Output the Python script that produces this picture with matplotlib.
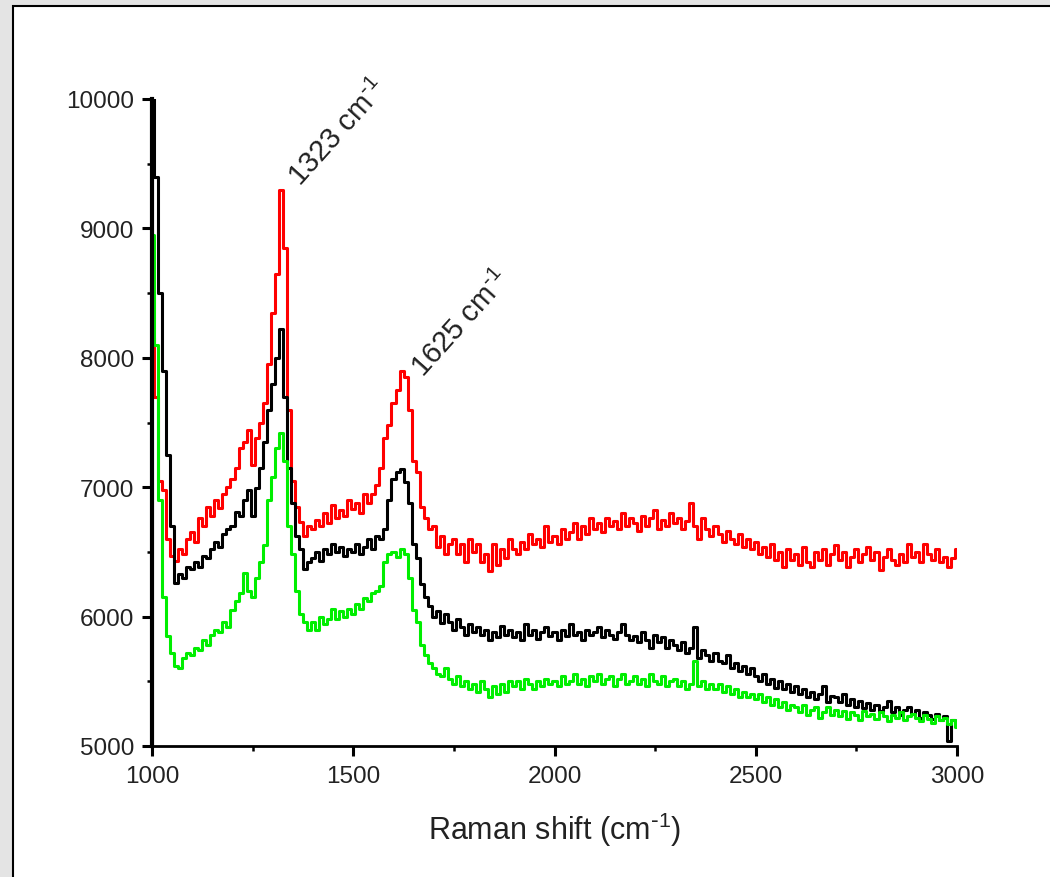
import numpy as np
import matplotlib
matplotlib.use("Agg")
import matplotlib.pyplot as plt
from matplotlib.patches import Rectangle
from matplotlib.ticker import MultipleLocator

plt.rcParams["font.family"] = ["Liberation Sans", "DejaVu Sans"]
plt.rcParams["mathtext.default"] = "regular"

# Raman shift grid (cm^-1), one reading every 10 cm^-1
shift = np.arange(1000, 3001, 10)

# Intensities, one row per 100 cm^-1
red = [
    8150, 7700, 7050, 6980, 6600, 6470, 6430, 6520, 6480, 6600,
    6650, 6580, 6760, 6700, 6850, 6780, 6900, 6840, 6950, 7000,
    7060, 7150, 7300, 7350, 7440, 7170, 7380, 7500, 7650, 7950,
    8350, 8650, 9300, 8850, 7600, 7050, 6850, 6730, 6620, 6700,
    6680, 6750, 6700, 6800, 6720, 6860, 6760, 6820, 6780, 6900,
    6830, 6880, 6800, 6950, 6880, 6950, 7020, 7150, 7380, 7480,
    7650, 7750, 7900, 7850, 7600, 7200, 7120, 6850, 6760, 6680,
    6700, 6540, 6620, 6480, 6560, 6600, 6480, 6560, 6420, 6600,
    6500, 6560, 6420, 6480, 6350, 6560, 6400, 6520, 6450, 6600,
    6520, 6480, 6580, 6520, 6640, 6560, 6600, 6540, 6700, 6580,
    6620, 6560, 6680, 6600, 6650, 6720, 6600, 6700, 6640, 6760,
    6680, 6720, 6650, 6760, 6700, 6740, 6680, 6800, 6700, 6760,
    6720, 6660, 6780, 6700, 6760, 6820, 6680, 6750, 6700, 6800,
    6720, 6760, 6680, 6740, 6880, 6700, 6600, 6760, 6680, 6620,
    6700, 6640, 6580, 6660, 6600, 6560, 6640, 6540, 6600, 6520,
    6580, 6480, 6540, 6460, 6560, 6440, 6500, 6380, 6520, 6440,
    6480, 6400, 6540, 6420, 6380, 6500, 6440, 6520, 6400, 6480,
    6550, 6440, 6500, 6380, 6460, 6520, 6420, 6480, 6540, 6440,
    6500, 6360, 6460, 6520, 6440, 6400, 6480, 6420, 6560, 6460,
    6500, 6420, 6560, 6480, 6440, 6520, 6420, 6460, 6380, 6450,
    6520,
]

black = [
    10300, 9400, 8500, 7900, 7250, 6700, 6260, 6330, 6300, 6380,
    6370, 6420, 6380, 6470, 6450, 6520, 6580, 6540, 6640, 6680,
    6700, 6810, 6780, 6900, 6980, 6780, 6990, 7150, 7350, 7600,
    7800, 8000, 8220, 7700, 7150, 6880, 6620, 6520, 6370, 6420,
    6450, 6500, 6430, 6520, 6480, 6560, 6500, 6540, 6470, 6520,
    6500, 6560, 6480, 6540, 6600, 6520, 6620, 6600, 6680, 6900,
    7060, 7120, 7140, 7040, 6880, 6560, 6450, 6250, 6150, 6080,
    6000, 6040, 5950, 6020, 5960, 5900, 5980, 5920, 5860, 5940,
    5880, 5920, 5860, 5900, 5820, 5880, 5840, 5930, 5860, 5900,
    5840, 5880, 5820, 5940, 5860, 5900, 5830, 5880, 5920, 5850,
    5880, 5820, 5900, 5850, 5940, 5860, 5880, 5820, 5900, 5860,
    5880, 5920, 5840, 5900, 5860, 5830, 5880, 5940, 5860, 5820,
    5850, 5800, 5880, 5820, 5760, 5860, 5800, 5840, 5760, 5820,
    5780, 5740, 5800, 5720, 5760, 5920, 5680, 5740, 5700, 5660,
    5720, 5660, 5640, 5700, 5600, 5640, 5580, 5620, 5560, 5600,
    5540, 5500, 5560, 5480, 5520, 5450, 5500, 5440, 5480, 5420,
    5460, 5400, 5440, 5380, 5420, 5360, 5400, 5460, 5340, 5390,
    5380, 5340, 5400, 5320, 5360, 5300, 5350, 5290, 5330, 5280,
    5320, 5270, 5300, 5350, 5260, 5300, 5240, 5280, 5300, 5250,
    5280, 5220, 5260, 5240, 5210, 5250, 5200, 5230, 5040, 5200,
    5180,
]

green = [
    8950, 8100, 6900, 6150, 5850, 5720, 5620, 5600, 5680, 5720,
    5700, 5760, 5740, 5820, 5780, 5860, 5900, 5880, 5960, 5920,
    6050, 6120, 6180, 6340, 6200, 6150, 6300, 6420, 6550, 6900,
    7080, 7300, 7420, 7200, 6700, 6480, 6200, 6020, 5960, 5900,
    5960, 5900, 6000, 5940, 5980, 6060, 5980, 6040, 6000, 6060,
    6020, 6100, 6060, 6140, 6120, 6180, 6200, 6240, 6420, 6480,
    6500, 6460, 6520, 6480, 6300, 6050, 5960, 5780, 5700, 5640,
    5600, 5560, 5540, 5600, 5520, 5480, 5540, 5460, 5500, 5440,
    5480, 5420, 5500, 5440, 5380, 5460, 5400, 5480, 5420, 5500,
    5460, 5500, 5440, 5520, 5480, 5440, 5500, 5460, 5520, 5480,
    5500, 5460, 5540, 5480, 5500, 5560, 5480, 5520, 5460, 5540,
    5500, 5560, 5480, 5520, 5540, 5460, 5520, 5560, 5480, 5500,
    5540, 5480, 5520, 5460, 5560, 5500, 5480, 5540, 5460, 5500,
    5520, 5460, 5500, 5440, 5480, 5660, 5460, 5500, 5440, 5480,
    5440, 5480, 5420, 5460, 5400, 5440, 5380, 5420, 5380, 5400,
    5360, 5400, 5340, 5380, 5320, 5360, 5300, 5340, 5280, 5320,
    5300, 5260, 5320, 5240, 5280, 5300, 5220, 5260, 5300, 5240,
    5280, 5230, 5270, 5210, 5260, 5240, 5200, 5270, 5230, 5250,
    5210, 5260, 5230, 5190, 5240, 5220, 5260, 5200, 5230, 5250,
    5220, 5190, 5240, 5210, 5180, 5230, 5200, 5220, 5170, 5200,
    5150,
]

peak_labels = [r"1323 cm$^{\text{-}1}$", r"1625 cm$^{\text{-}1}$"]
peak_label_at = [(1368, 9320), (1675, 7850)]

fig = plt.figure(figsize=(10.5, 8.78), dpi=100, facecolor="#e4e4e4")

# white sheet with a dark outline behind the plot
fig.patches.append(Rectangle((13 / 1050, -0.1), 1.2, 0.1 + 1 - 7 / 878,
                             transform=fig.transFigure, facecolor="white",
                             edgecolor="black", linewidth=1.5, zorder=-5))

ax = fig.add_axes([152 / 1050, 1 - 747 / 878, (957 - 152) / 1050, (747 - 100) / 878])
ax.set_facecolor("none")

ax.plot(shift, red, color="#ff0000", lw=2.2, drawstyle="steps-mid")
ax.plot(shift, black, color="black", lw=2.2, drawstyle="steps-mid")
ax.plot(shift, green, color="#00ee00", lw=2.2, drawstyle="steps-mid")

ax.set_xlim(1000, 3000)
ax.set_ylim(5000, 10000)
ax.xaxis.set_major_locator(MultipleLocator(500))
ax.xaxis.set_minor_locator(MultipleLocator(250))
ax.yaxis.set_major_locator(MultipleLocator(1000))
ax.yaxis.set_minor_locator(MultipleLocator(500))

for side in ("top", "right"):
    ax.spines[side].set_visible(False)
ax.spines["left"].set_linewidth(3.0)
ax.spines["bottom"].set_linewidth(2.0)

ax.tick_params(axis="both", which="major", direction="out", length=7, width=2.2,
               labelsize=17.5, colors="black")
ax.tick_params(axis="both", which="minor", direction="out", length=3.5, width=1.8)
ax.tick_params(axis="x", which="major", pad=7)
ax.tick_params(axis="y", which="major", pad=6)
for lbl in ax.get_xticklabels() + ax.get_yticklabels():
    lbl.set_color("#222222")

ax.set_xlabel(r"Raman shift (cm$^{\text{-}1}$)", fontsize=22, color="#222222", labelpad=16)

for (lx, ly), text in zip(peak_label_at, peak_labels):
    ax.text(lx, ly, text, fontsize=21, rotation=48, rotation_mode="anchor",
            ha="left", va="baseline", color="#222222")

fig.savefig("out.png", dpi=100, facecolor=fig.get_facecolor())
